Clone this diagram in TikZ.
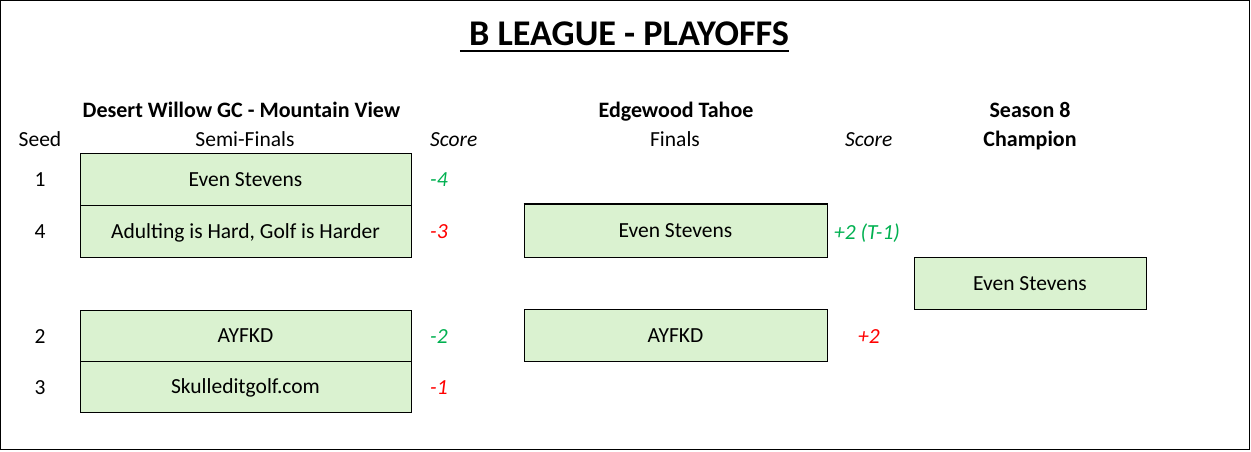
\documentclass[tikz,border=0pt]{standalone}
\usepackage{fontspec}
\setmainfont{Carlito}
\definecolor{cellgreen}{HTML}{DAF2D0}
\definecolor{scoregreen}{HTML}{00B050}
\definecolor{scorered}{HTML}{FF0000}
\tikzset{
  cell/.style={draw, fill=cellgreen, line width=1pt, inner sep=0pt, text height=14pt, text depth=0pt, font=\fontsize{21.5}{24}\selectfont},
  txt/.style={inner sep=0pt, anchor=base, font=\fontsize{21.5}{24}\selectfont},
  hdr/.style={txt, font=\fontsize{22}{26}\selectfont\bfseries},
  scr/.style={txt, anchor=base west, font=\fontsize{21.5}{24}\selectfont\itshape},
}
\begin{document}
\begin{tikzpicture}[x=1pt,y=-1pt]
\useasboundingbox (0,0) rectangle (1251,451);
\draw[line width=1.2pt] (0.6,0.6) rectangle (1249.4,449.6);
% title
\node[txt, font=\fontsize{36.2}{40}\selectfont\bfseries] (title) at (629,45.5) {B LEAGUE - PLAYOFFS};
\draw[line width=2pt] ([xshift=-9pt,yshift=-5.5pt]title.base west) -- ([yshift=-5.5pt]title.base east);
% headers
\node[hdr] (h0) at (241.5,117) {Desert Willow GC - Mountain View};
\node[txt] (h1) at (40,146) {Seed};
\node[txt] (h2) at (245,146) {Semi-Finals};
\node[scr] (h3) at (430,146) {Score};
\node[hdr] (h4) at (676,117) {Edgewood Tahoe};
\node[txt] (h5) at (675,146) {Finals};
\node[scr] (h6) at (845,146) {Score};
\node[hdr] (h7) at (1030,117) {Season 8};
\node[hdr] (h8) at (1030,146) {Champion};
% semi-finals
\node[cell, minimum width=331pt, minimum height=52pt] (sf1) at (245.5,179) {Even Stevens};
\node[cell, minimum width=331pt, minimum height=52pt] (sf4) at (245.5,231) {Adulting is Hard, Golf is Harder};
\node[cell, minimum width=331pt, minimum height=51pt] (sf2) at (245.5,335.5) {AYFKD};
\node[cell, minimum width=331pt, minimum height=51pt] (sf3) at (245.5,386.5) {Skulleditgolf.com};
\node[txt] (sd1) at (40,186) {1};
\node[txt] (sd4) at (40,238) {4};
\node[txt] (sd2) at (40,343) {2};
\node[txt] (sd3) at (40,394) {3};
\node[scr, scoregreen] (sc1) at (430,186) {-4};
\node[scr, scorered] (sc4) at (430,238) {-3};
\node[scr, scoregreen] (sc2) at (430,343) {-2};
\node[scr, scorered] (sc3) at (430,394) {-1};
% finals
\node[cell, minimum width=303pt, minimum height=53pt] (fn1) at (675.5,230.5) {Even Stevens};
\draw[line width=2pt] (fn1.north west) -- (fn1.north east);
\node[cell, minimum width=303pt, minimum height=52pt] (fn2) at (675.5,335) {AYFKD};
\node[scr, scoregreen] (fs1) at (834,239) {+2 (T-1)};
\node[scr, scorered] (fs2) at (858,343) {+2};
% champion
\node[cell, minimum width=232pt, minimum height=52pt] (ch) at (1030,283) {Even Stevens};
\end{tikzpicture}
\end{document}
